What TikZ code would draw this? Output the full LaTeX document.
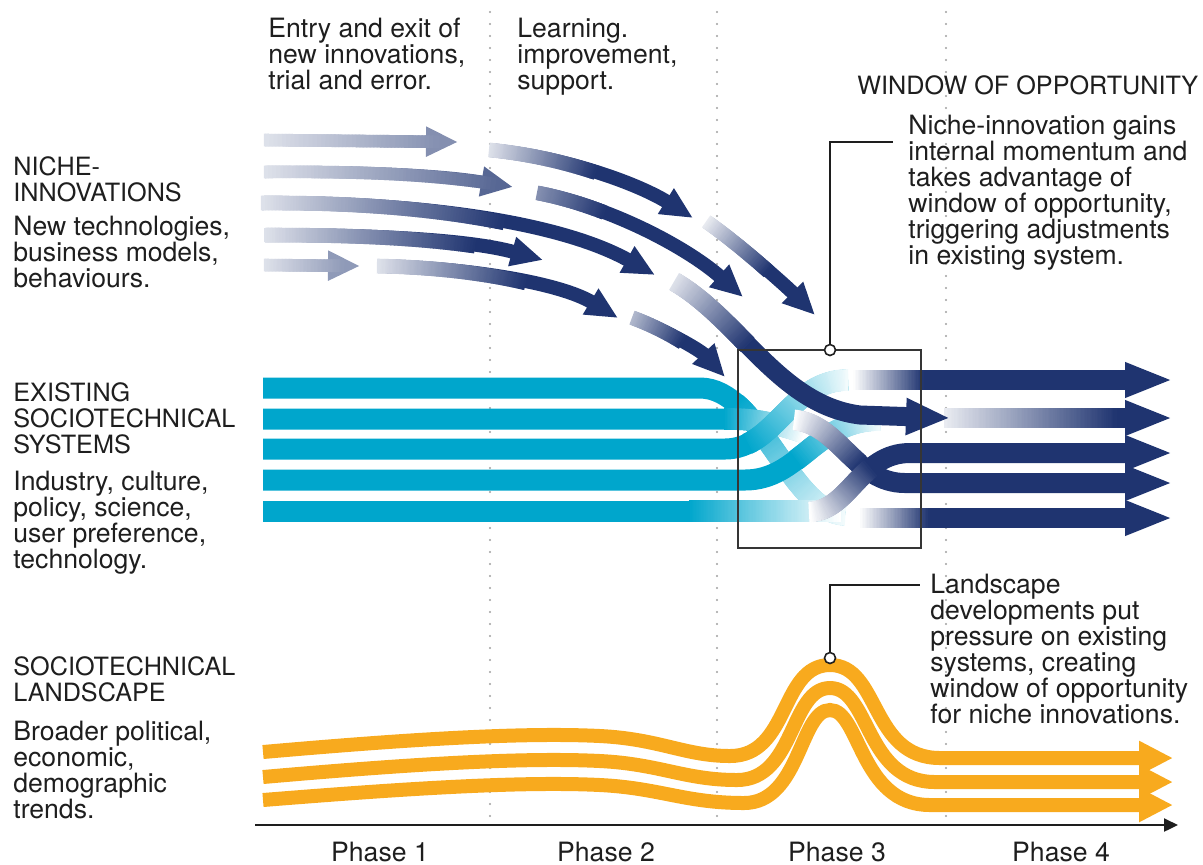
\documentclass[tikz,border=0pt]{standalone}
\usepackage{fontspec}
\setmainfont{TeX Gyre Heros}
\usetikzlibrary{arrows.meta,decorations.markings}

\definecolor{nichecol}{RGB}{31,52,112}
\definecolor{regimecol}{RGB}{0,166,204}
\definecolor{landcol}{RGB}{248,170,30}
\definecolor{inkcol}{RGB}{30,30,30}
\newcommand\bodyfont{\fontsize{13.3pt}{13pt}\selectfont}
\newcommand\capsfont{\fontsize{12.6pt}{13pt}\selectfont}

\begin{document}
\begin{tikzpicture}[x=0.5pt,y=-0.5pt,
    txt/.style={anchor=north west,inner sep=0pt,align=left,font=\bodyfont,text=inkcol},
    caps/.style={txt,font=\capsfont},
    phaselabel/.style={anchor=base,inner sep=0pt,font=\bodyfont,text=inkcol},
    phasedots/.style={draw=gray!75,line width=1.1pt,line cap=round,dash pattern=on 0pt off 6pt},
    leader/.style={draw=inkcol,line width=0.9pt},
    pindot/.style={circle,draw=inkcol,fill=white,line width=0.8pt,inner sep=0pt,minimum size=5.5pt},
    winframe/.style={draw=inkcol!90,line width=1.1pt},
    axisline/.style={draw=inkcol,line width=1.1pt,-{Triangle[width=6.5pt,length=7pt]}},
    nicheflow/.style={line width=7pt,-{Triangle[width=14pt,length=16pt]}},
    sysflow/.style={line width=10pt,-{Triangle[width=16pt,length=24pt]}},
    regimeband/.style={draw=regimecol,line width=10.5pt},
    landflow/.style={draw=landcol,line width=7pt,-{Triangle[width=16pt,length=17pt]}},
    fadeband/.style n args={6}{postaction={decorate,decoration={markings,
      mark=between positions #3 and #4 step 0.7pt with {%
        \pgfmathtruncatemacro\fadepct{max(0,min(100,#5+(#6-#5)*((\pgfkeysvalueof{/pgf/decoration/mark info/distance from start})/(\pgfdecoratedpathlength)-#3)/(#4-#3)))}%
        \fill[#1!\fadepct!white] (-0.55pt,-#2) rectangle (0.55pt,#2);}}}}]

\useasboundingbox (0,0) rectangle (1203,864);

% phase separators
\foreach \x in {490,717,946}
  \draw[phasedots] (\x,12) -- (\x,822);

% landscape
\draw[landflow] (263,752) .. controls (400,740) and (520,732) .. (600,736)
  .. controls (660,739) and (685,756) .. (730,756)
  .. controls (790,756) and (780,665) .. (830,665)
  .. controls (880,665) and (870,758) .. (940,758) -- (1173,758);
\draw[landflow] (263,777) .. controls (400,765) and (520,757) .. (600,761)
  .. controls (660,764) and (685,780) .. (737,780)
  .. controls (795,780) and (790,688) .. (830,688)
  .. controls (870,688) and (865,782) .. (935,782) -- (1173,782);
\draw[landflow] (263,800) .. controls (400,789) and (520,781) .. (600,785)
  .. controls (660,788) and (685,803) .. (744,803)
  .. controls (800,803) and (800,710) .. (830,710)
  .. controls (860,710) and (860,805) .. (930,805) -- (1173,805);

% existing regime
\draw[regimeband,fadeband={regimecol}{5.4pt}{0.75}{1}{100}{5}]
  (263,388) -- (700,388) .. controls (760,388) and (790,512) .. (845,515);
\draw[regimeband,fadeband={regimecol}{5.4pt}{0.85}{1}{100}{0}]
  (263,419) -- (730,419) .. controls (760,419) and (780,425) .. (805,433);
\draw[regimeband,fadeband={regimecol}{5.4pt}{0.74}{1}{100}{0}]
  (263,511) -- (840,511);
\draw[regimeband,fadeband={regimecol}{5.4pt}{0.8}{1}{100}{5}]
  (263,449) -- (725,449) .. controls (775,449) and (790,380) .. (848,380);
\draw[regimeband,fadeband={regimecol}{5.4pt}{0.85}{1}{100}{5}]
  (263,480) -- (745,480) .. controls (800,480) and (815,420) .. (880,420);

% new system
\draw[sysflow,nichecol,fadeband={nichecol}{5.15pt}{0}{0.2}{0}{100}]
  (795,420) .. controls (840,425) and (855,483) .. (905,483) -- (1173,483);
\draw[sysflow,nichecol,fadeband={nichecol}{5.15pt}{0}{0.2}{0}{100}]
  (810,512) .. controls (850,510) and (860,453) .. (910,453) -- (1173,453);
\draw[sysflow,nichecol,fadeband={nichecol}{5.15pt}{0}{0.22}{0}{100}] (853,380) -- (1173,380);
\draw[sysflow,nichecol,fadeband={nichecol}{5.15pt}{0}{0.22}{0}{100}] (860,518) -- (1173,518);
\draw[sysflow,nichecol,fadeband={nichecol}{5.15pt}{0}{0.75}{10}{100}] (945,418) -- (1173,418);

% niche innovations
\draw[nicheflow,line width=6pt,nichecol!55!white,fadeband={nichecol}{3.15pt}{0}{0.9}{15}{55}]
  (265,140) -- (458,142);
\draw[nicheflow,line width=6pt,nichecol!75!white,fadeband={nichecol}{3.15pt}{0}{0.93}{15}{75}]
  (265,172) .. controls (380,171) and (450,176) .. (513,187);
\draw[nicheflow,nichecol,fadeband={nichecol}{3.65pt}{0}{0.6}{15}{100}]
  (262,203) .. controls (420,202) and (560,222) .. (655,275);
\draw[nicheflow,nichecol,fadeband={nichecol}{3.65pt}{0}{0.75}{15}{100}]
  (265,235) .. controls (380,235) and (470,240) .. (543,260);
\draw[nicheflow,line width=6pt,nichecol!50!white,fadeband={nichecol}{3.15pt}{0}{0.83}{15}{50}]
  (265,265) -- (360,266);
\draw[nicheflow,nichecol,fadeband={nichecol}{3.65pt}{0}{0.6}{15}{100}]
  (378,266) .. controls (470,268) and (560,283) .. (618,318);
\draw[nicheflow,nichecol,fadeband={nichecol}{3.65pt}{0}{0.5}{15}{100}]
  (490,150) .. controls (570,158) and (640,185) .. (693,218);
\draw[nicheflow,nichecol,fadeband={nichecol}{3.65pt}{0}{0.3}{55}{100}]
  (538,193) .. controls (615,208) and (690,250) .. (743,297);
\draw[nicheflow,nichecol,fadeband={nichecol}{3.65pt}{0}{0.55}{10}{100}]
  (707,222) .. controls (740,245) and (785,285) .. (815,315);
\draw[nicheflow,nichecol,fadeband={nichecol}{3.65pt}{0}{0.5}{35}{100}]
  (633,318) .. controls (665,330) and (700,350) .. (725,377);
\draw[nichecol,line width=9.5pt,-{Triangle[width=17pt,length=22pt]},
      fadeband={nichecol}{4.9pt}{0}{0.3}{15}{100}]
  (675,282) .. controls (740,320) and (780,405) .. (860,415) -- (950,418);

% window of opportunity
\draw[winframe] (738,350) rectangle (921,548);
\node[pindot] (winpin) at (830,350) {};
\coordinate (winend) at (893,142);
\draw[leader] (winpin.north) |- (winend);
\node[pindot] (landpin) at (830,658) {};
\coordinate (landend) at (920,585);
\draw[leader] (landpin.north) |- (landend);

% texts
\node[txt] (entrytxt) at (268,18) {Entry and exit of\\new innovations,\\trial and error.};
\node[txt] (learntxt) at (517,18) {Learning.\\improvement,\\support.};
\node[caps] (wintitle) at (857,75) {WINDOW OF OPPORTUNITY};
\node[txt] (wintxt) at (908,115) {Niche-innovation gains\\internal momentum and\\takes advantage of\\window of opportunity,\\triggering adjustments\\in existing system.};
\node[caps] (nichehead) at (13,156) {NICHE-\\INNOVATIONS};
\node[txt] (nichetxt) at (13,216) {New technologies,\\business models,\\behaviours.};
\node[caps] (regimehead) at (13,382) {EXISTING\\SOCIOTECHNICAL\\SYSTEMS};
\node[txt] (regimetxt) at (13,471) {Industry, culture,\\policy, science,\\user preference,\\technology.};
\node[caps] (landhead) at (13,656) {SOCIOTECHNICAL\\LANDSCAPE};
\node[txt] (landtxt) at (13,721) {Broader political,\\economic,\\demographic\\trends.};
\node[txt] (landnote) at (930,574) {Landscape\\developments put\\pressure on existing\\systems, creating\\window of opportunity\\for niche innovations.};

% time axis
\coordinate (axisstart) at (255,825);
\coordinate (axisend) at (1178,825);
\draw[axisline] (axisstart) -- (axisend);
\node[phaselabel] (phase1) at (380,861) {Phase 1};
\node[phaselabel] (phase2) at (606,861) {Phase 2};
\node[phaselabel] (phase3) at (837,861) {Phase 3};
\node[phaselabel] (phase4) at (1061,861) {Phase 4};
\end{tikzpicture}
\end{document}
